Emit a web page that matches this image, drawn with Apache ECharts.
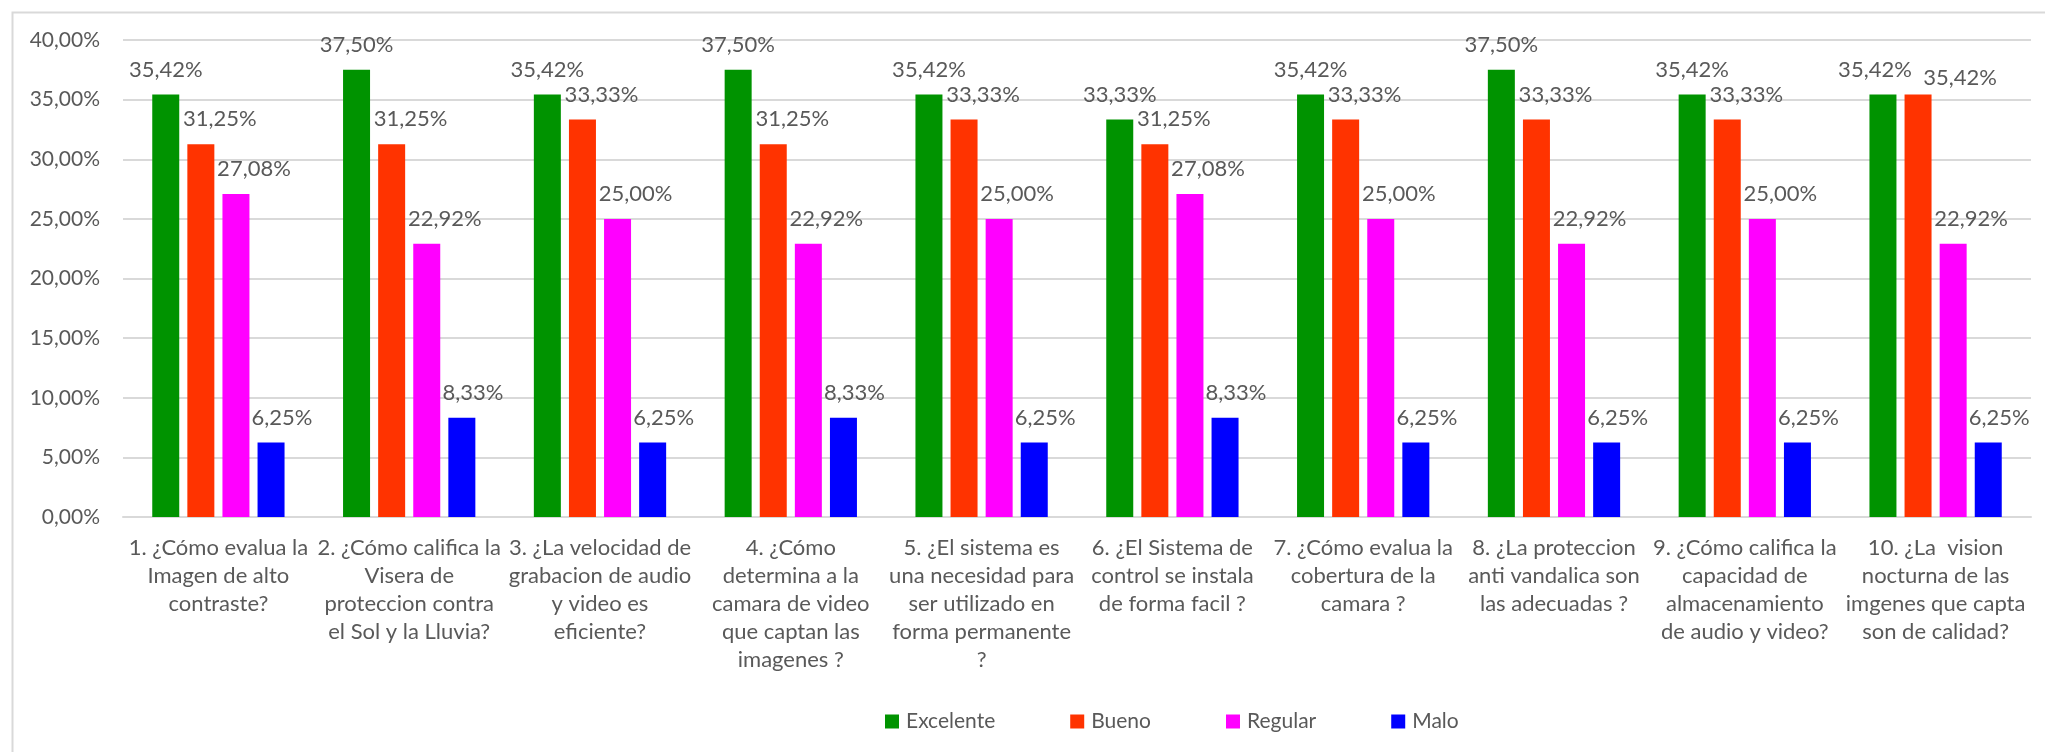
<!DOCTYPE html>
<html>
<head>
<meta charset="utf-8">
<script src="https://cdn.jsdelivr.net/npm/echarts@6/dist/echarts.min.js"></script>
<style>
html,body{margin:0;padding:0;background:#fff;}
#chart{width:2045px;height:752px;}
</style>
</head>
<body>
<div id="chart"></div>
<script>
const categories = [
  "1. ¿Cómo evalua la\nImagen de alto\ncontraste?",
  "2. ¿Cómo califica la\nVisera de\nproteccion contra\nel Sol y la Lluvia?",
  "3. ¿La velocidad de\ngrabacion de audio\ny video es\neficiente?",
  "4. ¿Cómo\ndetermina a la\ncamara de video\nque captan las\nimagenes ?",
  "5. ¿El sistema es\nuna necesidad para\nser utilizado en\nforma permanente\n?",
  "6. ¿El Sistema de\ncontrol se instala\nde forma facil ?",
  "7. ¿Cómo evalua la\ncobertura de la\ncamara ?",
  "8. ¿La proteccion\nanti vandalica son\nlas adecuadas ?",
  "9. ¿Cómo califica la\ncapacidad de\nalmacenamiento\nde audio y video?",
  "10. ¿La  vision\nnocturna de las\nimgenes que capta\nson de calidad?"
];
const seriesNames = ["Excelente", "Bueno", "Regular", "Malo"];
const excelente = [35.42, 37.50, 35.42, 37.50, 35.42, 33.33, 35.42, 37.50, 35.42, 35.42];
const bueno     = [31.25, 31.25, 33.33, 31.25, 33.33, 31.25, 33.33, 33.33, 33.33, 35.42];
const regular   = [27.08, 22.92, 25.00, 22.92, 25.00, 27.08, 25.00, 22.92, 25.00, 22.92];
const malo      = [6.25, 8.33, 6.25, 8.33, 6.25, 8.33, 6.25, 6.25, 6.25, 6.25];
const yTicks = { min: 0, max: 40, interval: 5 };

const colors = ["#009300", "#ff3300", "#ff00ff", "#0000ff"];
const FONT = "Lato";
const TXT = "#595959";
const fmt = v => Number(v).toFixed(2).replace('.', ',') + '%';

// label placement (style only): per-series horizontal shift, plus manual tweaks for the last group
const seriesLabelOffset = [[0, 0], [19, 0], [18, 0], [11, 0]];
const lastGroupOffset = [[-8, 0], [42, 8], [18, 0], [11, 0]];

const chart = echarts.init(document.getElementById('chart'));
const values = [excelente, bueno, regular, malo];
chart.setOption({
  animation: false,
  textStyle: { fontFamily: FONT },
  graphic: [{
    type: 'rect', left: 10, top: 10, silent: true,
    shape: { x: 0, y: 0, width: 2200, height: 900 },
    style: { fill: 'none', stroke: '#d9d9d9', lineWidth: 2 }
  }],
  legend: {
    data: seriesNames,
    left: 880, top: 706,
    itemWidth: 14, itemHeight: 14, itemGap: 75,
    icon: 'rect',
    textStyle: { fontFamily: FONT, fontSize: 21, color: TXT, padding: [0,0,0,2] }
  },
  grid: { left: 123, right: 14, top: 40, bottom: 235, containLabel: false },
  xAxis: {
    type: 'category', data: categories,
    axisLine: { lineStyle: { color: '#d9d9d9', width: 2 } },
    axisTick: { show: false },
    axisLabel: { interval: 0, margin: 17, color: TXT, fontFamily: FONT, fontSize: 22, lineHeight: 28 }
  },
  yAxis: {
    type: 'value', min: yTicks.min, max: yTicks.max, interval: yTicks.interval,
    axisLine: { show: false }, axisTick: { show: false },
    splitLine: { lineStyle: { color: '#d9d9d9', width: 2 } },
    axisLabel: { margin: 23, color: TXT, fontFamily: FONT, fontSize: 21, formatter: fmt }
  },
  series: seriesNames.map((n, i) => ({
    name: n, type: 'bar',
    data: values[i].map((v, j) => j === values[i].length - 1
      ? { value: v, label: { offset: lastGroupOffset[i] } }
      : v),
    barWidth: 27, barGap: '30%',
    itemStyle: { color: colors[i] },
    label: { show: true, position: 'top', distance: 14, offset: seriesLabelOffset[i], color: TXT, fontFamily: FONT, fontSize: 22, formatter: p => fmt(p.value) }
  }))
});
</script>
</body>
</html>
